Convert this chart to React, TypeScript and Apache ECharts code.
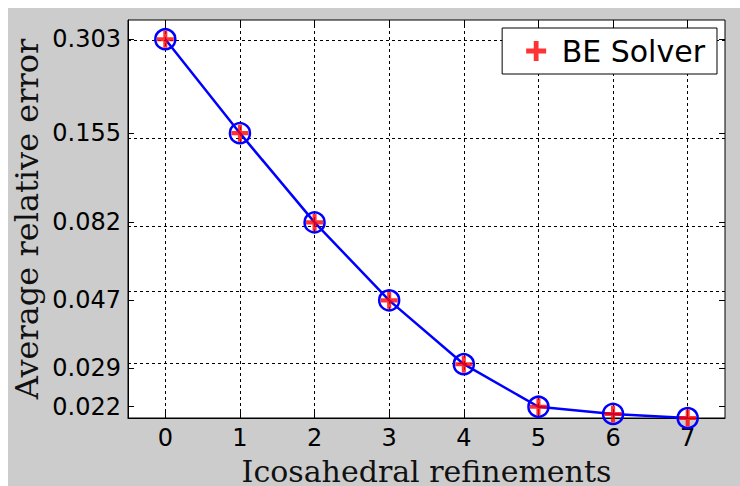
import React, { useEffect, useRef } from 'react';
import * as echarts from 'echarts';

const refinements = [0, 1, 2, 3, 4, 5, 6, 7];
const averageRelativeError = [0.303, 0.155, 0.082, 0.047, 0.0298, 0.022, 0.0209, 0.0203];
const yTickValues = [0.022, 0.029, 0.047, 0.082, 0.155, 0.303];
const xTickValues = [0, 1, 2, 3, 4, 5, 6, 7];
const yRange = [0.0203, 0.3476];
const xRange = [-0.5, 7.5];

const PLUS = 'path://M38,0H62V38H100V62H62V100H38V62H0V38H38Z';

export default function App() {
  const ref = useRef<HTMLDivElement>(null);
  useEffect(() => {
    const chart = echarts.init(ref.current!, null, { renderer: 'svg' });
    const pts = refinements.map((x, i) => [x, averageRelativeError[i]]);
    const tickStyle = { show: true, inside: true, length: 6, lineStyle: { color: '#000', width: 1 } };
    chart.setOption({
      animation: false,
      backgroundColor: '#cccccc',
      grid: {
        left: 120, top: 12, right: 15, bottom: 68,
        outerBoundsMode: 'none', containLabel: false,
        show: true, backgroundColor: '#ffffff', borderColor: '#000', borderWidth: 1,
      },
      legend: {
        data: [{ name: 'BE Solver', icon: PLUS }],
        right: 23, top: 20,
        padding: [8, 12, 8, 24],
        itemWidth: 21, itemHeight: 20,
        backgroundColor: '#ffffff', borderColor: '#000', borderWidth: 1, borderRadius: 0,
        textStyle: { fontFamily: 'DejaVu Sans', fontSize: 30, color: '#000', padding: [0, 0, 0, 10] },
        selectedMode: false,
      },
      xAxis: [
        {
          type: 'value', min: xRange[0], max: xRange[1],
          name: 'Icosahedral refinements', nameLocation: 'middle', nameGap: 39, nameMoveOverlap: false,
          nameTextStyle: { fontFamily: 'DejaVu Serif', fontSize: 30, color: '#111', lineHeight: 28 },
          axisLine: { show: true, onZero: false, lineStyle: { color: '#000' } },
          axisTick: { ...tickStyle, customValues: xTickValues },
          axisLabel: {
            customValues: xTickValues, margin: 8, fontFamily: 'DejaVu Sans', fontSize: 24, lineHeight: 24, color: '#000',
          },
          splitLine: { show: false },
        },
        {
          type: 'value', position: 'top', min: xRange[0], max: xRange[1],
          axisLine: { show: false, onZero: false },
          axisTick: { ...tickStyle, customValues: xTickValues },
          axisLabel: { show: false },
          splitLine: { show: false },
        },
      ],
      yAxis: [
        {
          type: 'log', min: yRange[0], max: yRange[1],
          name: 'Average relative error', nameLocation: 'middle', nameGap: 83, nameMoveOverlap: false,
          nameTextStyle: { fontFamily: 'DejaVu Serif', fontSize: 32, color: '#111', lineHeight: 36 },
          axisLine: { show: true, onZero: false, lineStyle: { color: '#000' } },
          axisTick: { ...tickStyle, customValues: yTickValues },
          axisLabel: {
            customValues: yTickValues, margin: 7, fontFamily: 'DejaVu Sans', fontSize: 24, color: '#000',
            formatter: (v: number) => v.toFixed(3),
          },
          splitLine: { show: false },
          minorSplitLine: { show: false },
        },
        {
          type: 'log', position: 'right', min: yRange[0], max: yRange[1],
          axisLine: { show: false, onZero: false },
          axisTick: { ...tickStyle, customValues: yTickValues },
          axisLabel: { show: false },
          splitLine: { show: false },
        },
      ],
      series: [
        {
          name: 'curve',
          type: 'line',
          data: pts,
          clip: false,
          symbol: 'circle',
          symbolSize: 20,
          lineStyle: { color: '#0000ff', width: 2.5 },
          itemStyle: { color: 'rgba(0,0,0,0)', borderColor: '#0000ff', borderWidth: 2.5 },
          z: 3,
          markLine: {
            silent: true,
            z: 1,
            symbol: ['none', 'none'],
            label: { show: false },
            lineStyle: { color: '#000', width: 1, type: [3, 3] },
            emphasis: { disabled: true },
            data: [
              ...yTickValues.map((v) => ({ yAxis: v })),
              ...xTickValues.map((v) => ({ xAxis: v })),
            ],
          },
        },
        {
          name: 'BE Solver',
          type: 'scatter',
          data: pts,
          clip: false,
          symbol: PLUS,
          symbolSize: 17,
          itemStyle: { color: '#ff0000' },
          z: 4,
        },
      ],
    });
    return () => chart.dispose();
  }, []);
  return <div ref={ref} style={{ position: 'fixed', left: 8, top: 8, width: 732, height: 478 }} />;
}
